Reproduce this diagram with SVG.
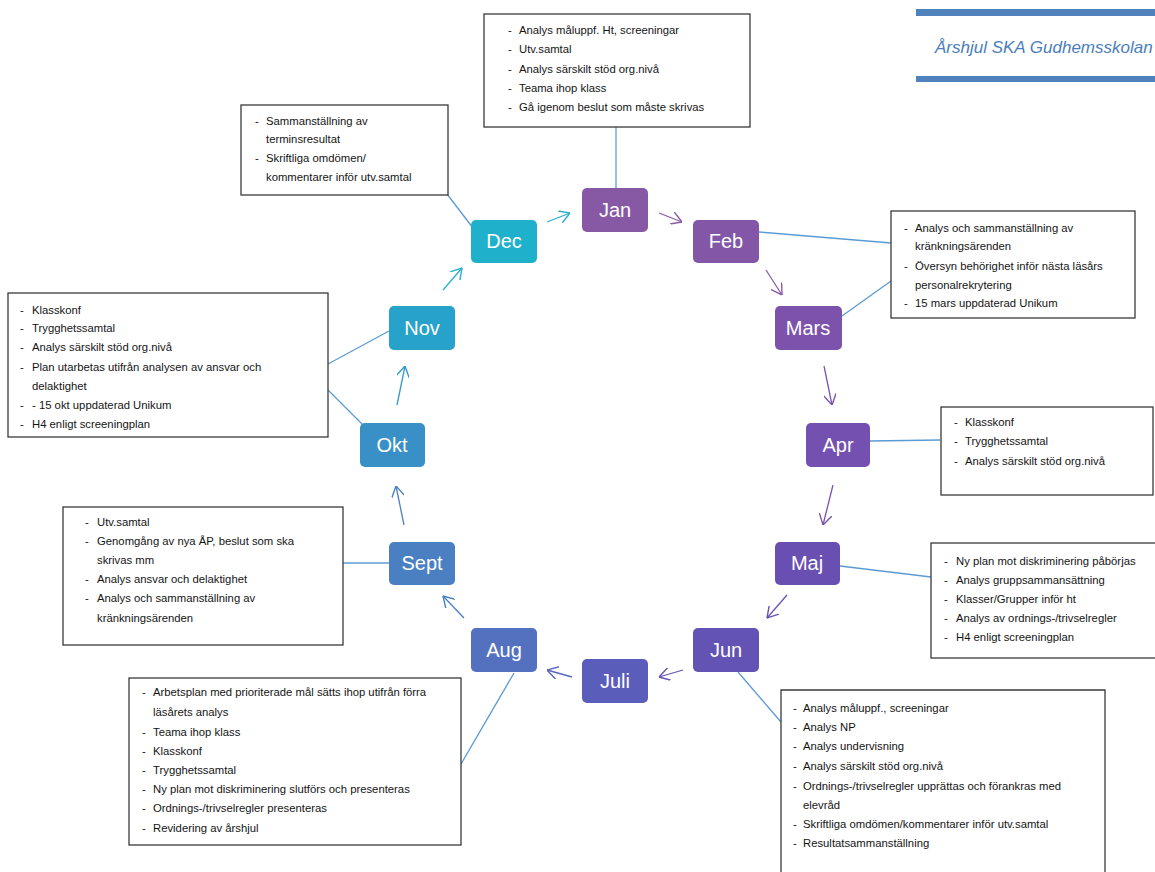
<svg xmlns="http://www.w3.org/2000/svg" width="1155" height="872" viewBox="0 0 1155 872">
<style>
.bg{fill:#ffffff}
.box{fill:#ffffff;stroke:#3a3a3a;stroke-width:1.3}
.t{font-family:"Liberation Sans",Arial,sans-serif;font-size:11.3px;fill:#141414}
.m{font-family:"Liberation Sans",Arial,sans-serif;font-size:20px;fill:#ffffff;text-anchor:middle}
.ln{stroke:#5b9bd5;stroke-width:1.3;fill:none}
.ar{stroke-width:1.3;fill:none}
.title{font-family:"Liberation Sans",Arial,sans-serif;font-size:17px;font-style:italic;fill:#4a7ebb}
</style>
<defs>
<marker id="a1" viewBox="0 0 10 12" refX="10" refY="6" markerWidth="11" markerHeight="13" markerUnits="userSpaceOnUse" orient="auto"><path d="M0,0 L10,6 L0,12" fill="none" stroke="#2bb0ce" stroke-width="1.3"/></marker>
<marker id="a2" viewBox="0 0 10 12" refX="10" refY="6" markerWidth="11" markerHeight="13" markerUnits="userSpaceOnUse" orient="auto"><path d="M0,0 L10,6 L0,12" fill="none" stroke="#8a5ca8" stroke-width="1.3"/></marker>
<marker id="a3" viewBox="0 0 10 12" refX="10" refY="6" markerWidth="11" markerHeight="13" markerUnits="userSpaceOnUse" orient="auto"><path d="M0,0 L10,6 L0,12" fill="none" stroke="#7a55b0" stroke-width="1.3"/></marker>
<marker id="a4" viewBox="0 0 10 12" refX="10" refY="6" markerWidth="11" markerHeight="13" markerUnits="userSpaceOnUse" orient="auto"><path d="M0,0 L10,6 L0,12" fill="none" stroke="#6853b5" stroke-width="1.3"/></marker>
<marker id="a5" viewBox="0 0 10 12" refX="10" refY="6" markerWidth="11" markerHeight="13" markerUnits="userSpaceOnUse" orient="auto"><path d="M0,0 L10,6 L0,12" fill="none" stroke="#5a66bc" stroke-width="1.3"/></marker>
<marker id="a6" viewBox="0 0 10 12" refX="10" refY="6" markerWidth="11" markerHeight="13" markerUnits="userSpaceOnUse" orient="auto"><path d="M0,0 L10,6 L0,12" fill="none" stroke="#4a80c2" stroke-width="1.3"/></marker>
<marker id="a7" viewBox="0 0 10 12" refX="10" refY="6" markerWidth="11" markerHeight="13" markerUnits="userSpaceOnUse" orient="auto"><path d="M0,0 L10,6 L0,12" fill="none" stroke="#3598c8" stroke-width="1.3"/></marker>
</defs>
<rect class="bg" x="0" y="0" width="1155" height="872"/>

<g id="title">
<rect x="916" y="9" width="239" height="7" fill="#4f81bd"/>
<text class="title" x="935" y="53">Årshjul SKA Gudhemsskolan</text>
<rect x="916" y="76" width="239" height="6" fill="#4f81bd"/>
</g>

<g id="connectors">
<line class="ln" x1="616" y1="188" x2="616" y2="127"/>
<line class="ln" x1="473" y1="228" x2="447" y2="194"/>
<line class="ln" x1="759" y1="232" x2="891" y2="243"/>
<line class="ln" x1="842" y1="316" x2="891" y2="281"/>
<line class="ln" x1="870" y1="441" x2="940" y2="440"/>
<line class="ln" x1="840" y1="566" x2="931" y2="577"/>
<line class="ln" x1="738" y1="672" x2="781" y2="722"/>
<line class="ln" x1="514" y1="673" x2="461" y2="764"/>
<line class="ln" x1="389" y1="563" x2="343" y2="563"/>
<line class="ln" x1="389" y1="331" x2="328" y2="364"/>
<line class="ln" x1="366" y1="428" x2="328" y2="390"/>

<line class="ar" stroke="#2bb0ce" x1="547" y1="222" x2="570" y2="213" marker-end="url(#a1)"/>
<line class="ar" stroke="#8a5ca8" x1="659" y1="213" x2="682" y2="222" marker-end="url(#a2)"/>
<line class="ar" stroke="#8a5ca8" x1="766" y1="270" x2="782" y2="295" marker-end="url(#a2)"/>
<line class="ar" stroke="#7a55b0" x1="824" y1="366" x2="832" y2="405" marker-end="url(#a3)"/>
<line class="ar" stroke="#7a55b0" x1="833" y1="485" x2="823" y2="525" marker-end="url(#a3)"/>
<line class="ar" stroke="#6853b5" x1="787" y1="595" x2="767" y2="618" marker-end="url(#a4)"/>
<line class="ar" stroke="#6853b5" x1="683" y1="670" x2="659" y2="677" marker-end="url(#a4)"/>
<line class="ar" stroke="#5a66bc" x1="572" y1="677" x2="547" y2="670" marker-end="url(#a5)"/>
<line class="ar" stroke="#4a80c2" x1="464" y1="618" x2="443" y2="596" marker-end="url(#a6)"/>
<line class="ar" stroke="#4a80c2" x1="404" y1="525" x2="396" y2="486" marker-end="url(#a6)"/>
<line class="ar" stroke="#3598c8" x1="397" y1="405" x2="405" y2="366" marker-end="url(#a7)"/>
<line class="ar" stroke="#2bb0ce" x1="443" y1="290" x2="462" y2="268" marker-end="url(#a1)"/>
</g>

<g id="jan"><rect x="582" y="188" width="66" height="44" rx="5" fill="#8759a5"/><text class="m" x="615" y="217">Jan</text></g>
<g id="feb"><rect x="693" y="220" width="66" height="43" rx="5" fill="#8356a8"/><text class="m" x="726" y="248">Feb</text></g>
<g id="mars"><rect x="775" y="306" width="67" height="44" rx="5" fill="#7d52ad"/><text class="m" x="808" y="335">Mars</text></g>
<g id="apr"><rect x="806" y="423" width="64" height="44" rx="5" fill="#7450b0"/><text class="m" x="838" y="452">Apr</text></g>
<g id="maj"><rect x="775" y="542" width="65" height="43" rx="5" fill="#6a4fb3"/><text class="m" x="807" y="570">Maj</text></g>
<g id="jun"><rect x="693" y="628" width="66" height="44" rx="5" fill="#6353b5"/><text class="m" x="726" y="657">Jun</text></g>
<g id="juli"><rect x="582" y="659" width="66" height="44" rx="5" fill="#5a5db9"/><text class="m" x="615" y="688">Juli</text></g>
<g id="aug"><rect x="471" y="628" width="66" height="44" rx="5" fill="#5471c0"/><text class="m" x="504" y="657">Aug</text></g>
<g id="sept"><rect x="389" y="542" width="66" height="43" rx="5" fill="#4a80c2"/><text class="m" x="422" y="570">Sept</text></g>
<g id="okt"><rect x="360" y="423" width="65" height="44" rx="5" fill="#3890c7"/><text class="m" x="392" y="452">Okt</text></g>
<g id="nov"><rect x="389" y="306" width="66" height="44" rx="5" fill="#27a2ca"/><text class="m" x="422" y="335">Nov</text></g>
<g id="dec"><rect x="471" y="220" width="66" height="43" rx="5" fill="#1fb1cb"/><text class="m" x="504" y="248">Dec</text></g>

<g id="box-jan">
<rect class="box" x="484" y="14" width="266" height="113"/>
<text class="t" x="508" y="34">-</text><text class="t" x="519" y="34">Analys måluppf. Ht, screeningar</text>
<text class="t" x="508" y="53">-</text><text class="t" x="519" y="53">Utv.samtal</text>
<text class="t" x="508" y="73">-</text><text class="t" x="519" y="73">Analys särskilt stöd org.nivå</text>
<text class="t" x="508" y="92">-</text><text class="t" x="519" y="92">Teama ihop klass</text>
<text class="t" x="508" y="111">-</text><text class="t" x="519" y="111">Gå igenom beslut som måste skrivas</text>
</g>

<g id="box-dec">
<rect class="box" x="241" y="105" width="207" height="90"/>
<text class="t" x="255" y="125">-</text><text class="t" x="266" y="125">Sammanställning av</text>
<text class="t" x="266" y="143">terminsresultat</text>
<text class="t" x="255" y="162">-</text><text class="t" x="266" y="162">Skriftliga omdömen/</text>
<text class="t" x="266" y="181">kommentarer inför utv.samtal</text>
</g>

<g id="box-feb">
<rect class="box" x="891" y="211" width="244" height="107"/>
<text class="t" x="904" y="232">-</text><text class="t" x="915" y="232">Analys och sammanställning av</text>
<text class="t" x="915" y="250">kränkningsärenden</text>
<text class="t" x="904" y="270">-</text><text class="t" x="915" y="270">Översyn behörighet inför nästa läsårs</text>
<text class="t" x="915" y="289">personalrekrytering</text>
<text class="t" x="904" y="307">-</text><text class="t" x="915" y="307">15 mars uppdaterad Unikum</text>
</g>

<g id="box-nov">
<rect class="box" x="8" y="293" width="320" height="144"/>
<text class="t" x="20" y="314">-</text><text class="t" x="32" y="314">Klasskonf</text>
<text class="t" x="20" y="332">-</text><text class="t" x="32" y="332">Trygghetssamtal</text>
<text class="t" x="20" y="351">-</text><text class="t" x="32" y="351">Analys särskilt stöd org.nivå</text>
<text class="t" x="20" y="371">-</text><text class="t" x="32" y="371">Plan utarbetas utifrån analysen av ansvar och</text>
<text class="t" x="32" y="390">delaktighet</text>
<text class="t" x="20" y="409">-</text><text class="t" x="32" y="409">- 15 okt uppdaterad Unikum</text>
<text class="t" x="20" y="428">-</text><text class="t" x="32" y="428">H4 enligt screeningplan</text>
</g>

<g id="box-apr">
<rect class="box" x="941" y="407" width="212" height="88"/>
<text class="t" x="954" y="426">-</text><text class="t" x="965" y="426">Klasskonf</text>
<text class="t" x="954" y="445">-</text><text class="t" x="965" y="445">Trygghetssamtal</text>
<text class="t" x="954" y="465">-</text><text class="t" x="965" y="465">Analys särskilt stöd org.nivå</text>
</g>

<g id="box-maj">
<rect class="box" x="931" y="543" width="230" height="115"/>
<text class="t" x="944" y="565">-</text><text class="t" x="956" y="565">Ny plan mot diskriminering påbörjas</text>
<text class="t" x="944" y="584">-</text><text class="t" x="956" y="584">Analys gruppsammansättning</text>
<text class="t" x="944" y="603">-</text><text class="t" x="956" y="603">Klasser/Grupper inför ht</text>
<text class="t" x="944" y="622">-</text><text class="t" x="956" y="622">Analys av ordnings-/trivselregler</text>
<text class="t" x="944" y="641">-</text><text class="t" x="956" y="641">H4 enligt screeningplan</text>
</g>

<g id="box-sept">
<rect class="box" x="63" y="507" width="280" height="138"/>
<text class="t" x="85" y="526">-</text><text class="t" x="97" y="526">Utv.samtal</text>
<text class="t" x="85" y="545">-</text><text class="t" x="97" y="545">Genomgång av nya ÅP, beslut som ska</text>
<text class="t" x="97" y="564">skrivas mm</text>
<text class="t" x="85" y="583">-</text><text class="t" x="97" y="583">Analys ansvar och delaktighet</text>
<text class="t" x="85" y="602">-</text><text class="t" x="97" y="602">Analys och sammanställning av</text>
<text class="t" x="97" y="622">kränkningsärenden</text>
</g>

<g id="box-aug">
<rect class="box" x="129" y="678" width="332" height="167"/>
<text class="t" x="142" y="696">-</text><text class="t" x="153" y="696">Arbetsplan med prioriterade mål sätts ihop utifrån förra</text>
<text class="t" x="153" y="716">läsårets analys</text>
<text class="t" x="142" y="736">-</text><text class="t" x="153" y="736">Teama ihop klass</text>
<text class="t" x="142" y="755">-</text><text class="t" x="153" y="755">Klasskonf</text>
<text class="t" x="142" y="774">-</text><text class="t" x="153" y="774">Trygghetssamtal</text>
<text class="t" x="142" y="793">-</text><text class="t" x="153" y="793">Ny plan mot diskriminering slutförs och presenteras</text>
<text class="t" x="142" y="812">-</text><text class="t" x="153" y="812">Ordnings-/trivselregler presenteras</text>
<text class="t" x="142" y="832">-</text><text class="t" x="153" y="832">Revidering av årshjul</text>
</g>

<g id="box-jun">
<path class="box" d="M781,875 L781,690 L1105,690 L1105,875"/>
<text class="t" x="793" y="712">-</text><text class="t" x="803" y="712">Analys måluppf., screeningar</text>
<text class="t" x="793" y="731">-</text><text class="t" x="803" y="731">Analys NP</text>
<text class="t" x="793" y="750">-</text><text class="t" x="803" y="750">Analys undervisning</text>
<text class="t" x="793" y="770">-</text><text class="t" x="803" y="770">Analys särskilt stöd org.nivå</text>
<text class="t" x="793" y="790">-</text><text class="t" x="803" y="790">Ordnings-/trivselregler upprättas och förankras med</text>
<text class="t" x="803" y="809">elevråd</text>
<text class="t" x="793" y="828">-</text><text class="t" x="803" y="828">Skriftliga omdömen/kommentarer inför utv.samtal</text>
<text class="t" x="793" y="847">-</text><text class="t" x="803" y="847">Resultatsammanställning</text>
</g>
</svg>
